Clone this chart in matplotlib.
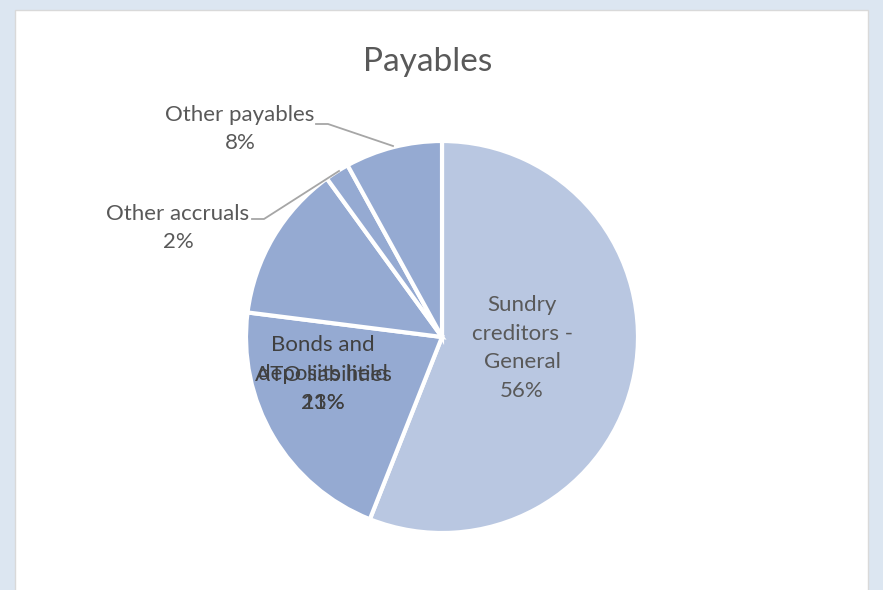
import matplotlib.pyplot as plt
from matplotlib.patches import Rectangle

labels = ["Sundry\ncreditors -\nGeneral", "Bonds and\ndeposits held", "ATO liabilities",
          "Other accruals", "Other payables"]
values = [56, 21, 13, 2, 8]
colors = ["#b9c7e1", "#95aad2", "#95aad2", "#95aad2", "#95aad2"]

W, H = 883, 590
plt.rcParams['font.family'] = ['Lato', 'DejaVu Sans']
txt = "#595959"

fig = plt.figure(figsize=(W / 100, H / 100), dpi=100, facecolor="#dce6f1")
ax = fig.add_axes([0, 0, 1, 1])
ax.set_aspect("equal")

# white chart area
ax.add_patch(Rectangle((15, -5), 853, H - 10 + 5, facecolor="white", edgecolor="#d9d9d9", lw=1, zorder=0))

cx, cy, r = 442, H - 337, 196
wedges, _ = ax.pie(values, colors=colors, startangle=90, counterclock=False,
                   center=(cx, cy), radius=r, frame=True,
                   wedgeprops=dict(edgecolor="white", linewidth=3))
ax.set_xlim(0, W)
ax.set_ylim(0, H)
ax.axis("off")

fs = 16
ls = 1.55
# inside labels (Excel put two of them on top of each other)
ax.text(522, H - 348, f"{labels[0]}\n{values[0]}%", ha="center", va="center",
        fontsize=fs, color=txt, linespacing=ls)
ax.text(323, H - 374, f"{labels[1]}\n{values[1]}%", ha="center", va="center",
        fontsize=fs, color="#404040", linespacing=ls)
ax.text(323, H - 389, f"{labels[2]}\n{values[2]}%", ha="center", va="center",
        fontsize=fs, color="#404040", linespacing=ls)

# outside labels with leader lines
ax.text(240, H - 129, f"{labels[4]}\n{values[4]}%", ha="center", va="center",
        fontsize=fs, color=txt, linespacing=ls)
ax.plot([316, 328, 393], [H - 124, H - 124, H - 146], color="#a6a6a6", lw=1.3)
ax.text(178, H - 228, f"{labels[3]}\n{values[3]}%", ha="center", va="center",
        fontsize=fs, color=txt, linespacing=ls)
ax.plot([252, 264, 339], [H - 219, H - 219, H - 171], color="#a6a6a6", lw=1.3)

ax.text(428, H - 62, "Payables", ha="center", va="center", fontsize=24, color=txt)

fig.savefig("out.png", dpi=100, facecolor=fig.get_facecolor())
